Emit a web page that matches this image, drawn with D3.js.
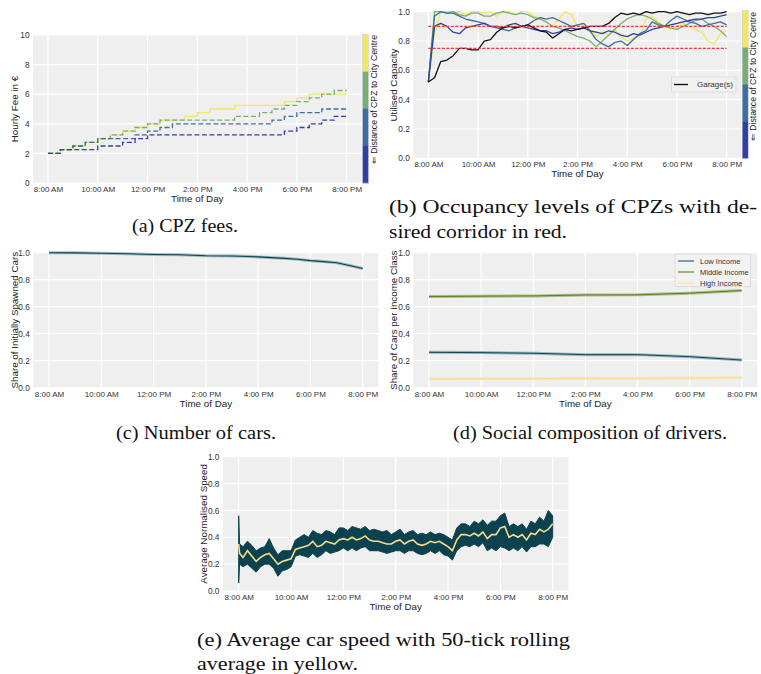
<!DOCTYPE html>
<html>
<head>
<meta charset="utf-8">
<script src="https://cdn.jsdelivr.net/npm/d3@7/dist/d3.min.js"></script>
<style>
  body { margin: 0; background: #fff; }
  svg text { font-family: "Liberation Sans", Arial, sans-serif; }
  .caption { font-family: "Liberation Serif", "DejaVu Serif", serif !important; font-size: 19px; fill: #111; }
</style>
</head>
<body>
<script>
// ---- data ----

// (a) hourly fee per CPZ, half-hour steps from 8:00 to 20:00
var feeTimes = [8, 8.5, 9, 9.5, 10, 10.5, 11, 11.5, 12, 12.5, 13, 13.5, 14, 14.5, 15, 15.5, 16, 16.5, 17, 17.5, 18, 18.5, 19, 19.5, 20];
var feeYellow = [2, 2.25, 2.5, 2.75, 3, 3.25, 3.5, 3.75, 4, 4.25, 4.25, 4.5, 4.75, 5, 5, 5.25, 5.25, 5.25, 5.25, 5.5, 5.75, 6, 6, 6, 6];
var feeGreen  = [2, 2.25, 2.5, 2.75, 3, 3.25, 3.5, 3.75, 4, 4.25, 4.25, 4.25, 4.25, 4.25, 4.25, 4.5, 4.5, 4.75, 5, 5.25, 5.5, 5.75, 6, 6.25, 6.25];
var feeSteel  = [2, 2.25, 2.5, 2.75, 3, 3, 3, 3.25, 3.5, 3.75, 4, 4, 4, 4, 4, 4, 4, 4, 4.25, 4.5, 4.75, 4.75, 5, 5, 5];
var feeBlue   = [2, 2.25, 2.25, 2.25, 2.5, 2.5, 2.75, 3, 3.25, 3.25, 3.25, 3.25, 3.25, 3.25, 3.25, 3.25, 3.25, 3.25, 3.25, 3.5, 3.75, 4, 4.25, 4.5, 4.5];

// (b) utilised capacity, quarter-hour samples
var occTimes = [8, 8.25, 8.5, 8.75, 9, 9.25, 9.5, 9.75, 10, 10.25, 10.5, 10.75, 11, 11.25, 11.5, 11.75,
  12, 12.25, 12.5, 12.75, 13, 13.25, 13.5, 13.75, 14, 14.25, 14.5, 14.75, 15, 15.25, 15.5, 15.75,
  16, 16.25, 16.5, 16.75, 17, 17.25, 17.5, 17.75, 18, 18.25, 18.5, 18.75, 19, 19.25, 19.5, 19.75, 20];
var occYellow = [.52, .85, 1, 1, 1, 1, .98, 1, 1, .99, 1, .97, 1, 1, .98, 1, 1, .97, .96, .93, .90, .95, 1, .98, .90,
  .92, .88, .83, .86, .84, .88, .83, .80, .82, .83, .95, .97, .93, .90, .88, .90, .92, .90, .88, .86, .80, .78, .85, .87];
var occGreen = [.52, 1, 1, .99, 1, .98, .97, .99, .99, .97, .97, .99, 1, .99, .98, .99, .98, .96, .95, .93, .90, .89, .87, .85, .83,
  .82, .80, .76, .80, .84, .88, .92, .95, .97, .98, .97, .95, .92, .90, .89, .88, .90, .92, .94, .95, .92, .90, .87, .83];
var occSteel = [.52, .97, 1, .99, .99, .97, .95, .94, .93, .92, .90, .89, .88, .87, .89, .90, .91, .94, .96, .95, .96, .94, .92, .90, .91,
  .92, .87, .81, .78, .76, .79, .80, .77, .81, .85, .87, .93, .91, .90, .94, .97, .95, .93, .92, .90, .91, .92, .93, .91];
var occBlue = [.52, .90, .92, .90, .86, .85, .89, .90, .91, .92, .90, .90, .89, .91, .92, .90, .89, .88, .87, .87, .85, .86, .88, .89, .88,
  .89, .87, .86, .85, .87, .86, .84, .83, .85, .84, .86, .88, .89, .90, .91, .92, .93, .94, .95, .95, .96, .96, .97, .98];
var occGarage = [.52, .55, .66, .67, .70, .75, .75, .74, .74, .80, .81, .86, .89, .90, .89, .90, .91, .89, .87, .86, .82, .85, .88, .87, .88,
  .89, .90, .90, .90, .92, .96, .99, .98, .99, .98, 1, .99, 1, 1, .99, 1, .99, .98, .99, .99, .98, .99, .99, 1];
var corridor = [0.75, 0.9];

// (c) share of initially spawned cars
var carTimes = [8, 9, 10, 11, 12, 13, 14, 15, 16, 17, 17.5, 18, 18.5, 19, 19.5, 20];
var carShare = [1.0, .999, .996, .992, .987, .985, .977, .975, .969, .958, .952, .941, .934, .925, .905, .883];

// (d) share of cars per income class
var incTimes = [8, 10, 12, 14, 16, 18, 20];
var incLow  = [.262, .260, .255, .245, .245, .230, .205];
var incMid  = [.675, .678, .680, .687, .688, .700, .720];
var incHigh = [.065, .066, .067, .069, .070, .071, .074];
var incNames = ["Low Income", "Middle Income", "High Income"];

// (e) average normalised speed: envelope of the raw series and the rolling mean (minutes after 8:00)
var speedMin = [0, 2, 10, 20, 30, 40, 50, 60, 70, 80, 90, 100, 110, 120, 130, 140, 150, 160, 170, 180, 190, 200,
  210, 220, 230, 240, 250, 260, 270, 280, 290, 300, 310, 320, 330, 340, 350, 360, 370, 380, 390, 400, 410, 420,
  430, 440, 450, 460, 470, 480, 490, 500, 510, 520, 530, 540, 550, 560, 570, 580, 590, 600, 610, 620, 630, 640,
  650, 660, 670, 680, 690, 700, 710, 720];
var speedHi = [.56, .35, .33, .37, .34, .30, .32, .33, .39, .32, .27, .30, .30, .30, .38, .40, .42, .40, .45, .43,
  .42, .45, .44, .42, .47, .47, .45, .48, .47, .46, .48, .45, .46, .45, .44, .45, .42, .44, .46, .42,
  .44, .45, .42, .43, .42, .44, .42, .43, .42, .40, .38, .47, .50, .50, .48, .52, .50, .53, .49, .52,
  .52, .56, .58, .48, .50, .48, .50, .46, .52, .50, .55, .52, .60, .56];
var speedLo = [.06, .20, .18, .20, .17, .14, .18, .20, .20, .17, .11, .15, .16, .18, .26, .27, .26, .25, .28, .25,
  .27, .30, .28, .29, .30, .32, .30, .32, .30, .32, .33, .30, .30, .30, .29, .28, .29, .30, .30, .28,
  .30, .30, .28, .27, .28, .30, .28, .30, .27, .26, .23, .30, .33, .34, .33, .35, .33, .36, .30, .32,
  .30, .33, .32, .30, .32, .30, .33, .29, .33, .33, .35, .35, .33, .40];
var speedAvg = [.35, .28, .25, .30, .26, .22, .25, .27, .28, .24, .20, .22, .23, .24, .31, .32, .33, .34, .37, .33,
  .34, .37, .36, .35, .38, .39, .38, .40, .38, .39, .41, .38, .37, .37, .36, .35, .35, .37, .38, .35,
  .37, .38, .35, .34, .35, .37, .36, .37, .35, .33, .30, .38, .42, .42, .41, .43, .41, .44, .39, .42,
  .42, .47, .48, .40, .42, .40, .42, .38, .43, .42, .46, .44, .46, .50];

var hourTicks = [8, 10, 12, 14, 16, 18, 20];
var unitTicks = [0, 0.2, 0.4, 0.6, 0.8, 1.0];
var cpzColors = ["#f0e85e", "#79ae72", "#3c6f9c", "#3140a0"]; // near -> far from centre (top -> bottom)

// ---- helpers ----

function fmtHour(h) {
  var hh = h % 12 === 0 ? 12 : h % 12;
  return hh + ":00 " + (h < 12 ? "AM" : "PM");
}

function zip(xs, ys) {
  return xs.map(function(d, i) { return [d, ys[i]]; });
}

var svg = d3.select("body").append("svg")
    .attr("width", 761)
    .attr("height", 674);

svg.append("rect").attr("width", 761).attr("height", 674).attr("fill", "#fff");

// builds the grey plot area, white grid, tick labels and axis titles
function panel(p) {
  var x = d3.scaleLinear().domain([7.4, 20.6]).range([p.x0, p.x1]);
  var y = d3.scaleLinear().domain([0, p.yMax]).range([p.y1, p.y0]);
  var g = svg.append("g");

  g.append("rect")
      .attr("x", p.x0).attr("y", p.y0)
      .attr("width", p.x1 - p.x0).attr("height", p.y1 - p.y0)
      .attr("fill", "#efefef");

  g.selectAll(".vgrid").data(hourTicks).enter().append("line")
      .attr("x1", function(d) { return x(d); }).attr("x2", function(d) { return x(d); })
      .attr("y1", p.y0).attr("y2", p.y1)
      .attr("stroke", "#fff").attr("stroke-width", 1.2);
  g.selectAll(".hgrid").data(p.yTicks).enter().append("line")
      .attr("x1", p.x0).attr("x2", p.x1)
      .attr("y1", function(d) { return y(d); }).attr("y2", function(d) { return y(d); })
      .attr("stroke", "#fff").attr("stroke-width", 1.2);

  g.append("g")
      .attr("transform", "translate(0," + p.y1 + ")")
      .call(d3.axisBottom(x).tickValues(hourTicks).tickFormat(fmtHour).tickSize(0).tickPadding(3.5))
      .call(function(a) { a.select(".domain").remove(); })
      .attr("font-family", null).attr("font-size", 8).style("color", "#333");

  g.append("g")
      .attr("transform", "translate(" + p.x0 + ",0)")
      .call(d3.axisLeft(y).tickValues(p.yTicks).tickFormat(p.fmt).tickSize(0).tickPadding(3.5))
      .call(function(a) { a.select(".domain").remove(); })
      .attr("font-family", null).attr("font-size", 8.3).style("color", "#333");

  g.append("text")
      .attr("x", (p.x0 + p.x1) / 2).attr("y", p.y1 + 19)
      .attr("text-anchor", "middle").attr("font-size", 9.8).attr("fill", "#222")
      .text("Time of Day");

  g.append("text")
      .attr("transform", "translate(" + (p.ylabX + 3.5) + "," + ((p.y0 + p.y1) / 2) + ") rotate(-90)")
      .attr("text-anchor", "middle").attr("font-size", 9.8).attr("fill", "#222")
      .text(p.ylabel);

  return {x: x, y: y, g: g};
}

function colorbar(g, x0, y0, y1, labX, labTop) {
  var band = d3.scaleBand().domain(d3.range(cpzColors.length)).range([y0, y1]);
  g.selectAll(".cb").data(cpzColors).enter().append("rect")
      .attr("x", x0).attr("width", 6)
      .attr("y", function(d, i) { return band(i); })
      .attr("height", band.bandwidth() + 0.3)
      .attr("fill", function(d) { return d; });
  g.append("rect").attr("x", x0).attr("y", y0).attr("width", 6).attr("height", y1 - y0)
      .attr("fill", "none").attr("stroke", "#c8c8e0").attr("stroke-width", 0.5);
  g.append("text")
      .attr("transform", "translate(" + labX + "," + labTop + ") rotate(-90)")
      .attr("text-anchor", "end").attr("font-size", 8.7).attr("fill", "#222")
      .text("\u21D0 Distance of CPZ to City Centre");
}

var fmt1 = d3.format(".1f");

// ---- (a) CPZ fees ----
var pa = panel({x0: 33, x1: 361.6, y0: 35, y1: 183, yMax: 10, yTicks: [0, 2, 4, 6, 8, 10],
  fmt: d3.format("d"), ylabel: "Hourly Fee in \u20AC", ylabX: 14});
var stepLine = d3.line()
    .x(function(d) { return pa.x(d[0]); })
    .y(function(d) { return pa.y(d[1]); })
    .curve(d3.curveStepAfter);
[feeYellow, feeGreen, feeSteel, feeBlue].forEach(function(s, i) {
  pa.g.append("path")
      .attr("d", stepLine(zip(feeTimes, s)))
      .attr("fill", "none")
      .attr("stroke", cpzColors[i])
      .attr("stroke-width", 1.3)
      .attr("stroke-dasharray", i === 0 ? null : "5,2.5");
});
colorbar(pa.g, 362.5, 34.5, 183, 376.5, 35);

// ---- (b) occupancy ----
var pb = panel({x0: 413.4, x1: 741.6, y0: 11.7, y1: 158.3, yMax: 1, yTicks: unitTicks,
  fmt: fmt1, ylabel: "Utilised Capacity", ylabX: 393});
var occLine = d3.line()
    .x(function(d) { return pb.x(d[0]); })
    .y(function(d) { return pb.y(d[1]); });
[occYellow, occGreen, occSteel, occBlue].forEach(function(s, i) {
  pb.g.append("path")
      .attr("d", occLine(zip(occTimes, s)))
      .attr("fill", "none")
      .attr("stroke", cpzColors[i])
      .attr("stroke-width", 1.3)
      .attr("stroke-linejoin", "bevel");
});
pb.g.append("path")
    .attr("d", occLine(zip(occTimes, occGarage)))
    .attr("fill", "none").attr("stroke", "#111").attr("stroke-width", 1.3).attr("stroke-linejoin", "bevel");
pb.g.selectAll(".corr").data(corridor).enter().append("line")
    .attr("x1", pb.x(8)).attr("x2", pb.x(20))
    .attr("y1", function(d) { return pb.y(d); }).attr("y2", function(d) { return pb.y(d); })
    .attr("stroke", "#f03a36").attr("stroke-width", 1.1).attr("stroke-dasharray", "3,1.5");
colorbar(pb.g, 742.2, 10.5, 158.3, 755.7, 12);

// legend
var lgB = pb.g.append("g");
lgB.append("rect").attr("x", 671.7).attr("y", 77).attr("width", 64.3).attr("height", 15)
    .attr("fill", "#f2f2f2").attr("stroke", "#d0d0d0").attr("stroke-width", 0.6);
lgB.append("line").attr("x1", 674).attr("x2", 688).attr("y1", 84.5).attr("y2", 84.5)
    .attr("stroke", "#111").attr("stroke-width", 1.4);
lgB.append("text").attr("x", 697).attr("y", 84.5).attr("dy", "0.35em")
    .attr("font-size", 8).attr("fill", "#333").text("Garage(s)");

// ---- (c) number of cars ----
var pc = panel({x0: 33.3, x1: 378.4, y0: 252.7, y1: 387.7, yMax: 1, yTicks: unitTicks,
  fmt: fmt1, ylabel: "Share of Initially Spawned Cars", ylabX: 14});
var carLine = d3.line()
    .x(function(d) { return pc.x(d[0]); })
    .y(function(d) { return pc.y(d[1]); });
pc.g.append("path").attr("d", carLine(zip(carTimes, carShare)))
    .attr("fill", "none").attr("stroke", "#7fa2ab").attr("stroke-width", 3).attr("opacity", 0.7);
pc.g.append("path").attr("d", carLine(zip(carTimes, carShare)))
    .attr("fill", "none").attr("stroke", "#0d4452").attr("stroke-width", 1.1);

// ---- (d) social composition ----
var pd = panel({x0: 413.4, x1: 757.3, y0: 252.7, y1: 387.7, yMax: 1, yTicks: unitTicks,
  fmt: fmt1, ylabel: "Share of Cars per Income Class", ylabX: 393});
var incLine = d3.line()
    .x(function(d) { return pd.x(d[0]); })
    .y(function(d) { return pd.y(d[1]); });
var incHalo = ["#7fa2ab", "#9bb070", "#f8e8b0"];
var incDark = ["#12495a", "#5f7f1c", "#f5dc90"];
var incLegend = ["#5d8893", "#8da258", "#fbe7ad"];
[incLow, incMid, incHigh].forEach(function(s, i) {
  pd.g.append("path").attr("d", incLine(zip(incTimes, s)))
      .attr("fill", "none").attr("stroke", incHalo[i]).attr("stroke-width", 3).attr("opacity", 0.8);
  pd.g.append("path").attr("d", incLine(zip(incTimes, s)))
      .attr("fill", "none").attr("stroke", incDark[i]).attr("stroke-width", 1);
});
var lgD = pd.g.append("g");
lgD.append("rect").attr("x", 675).attr("y", 254).attr("width", 75.7).attr("height", 32.7)
    .attr("fill", "#f2f2f2").attr("stroke", "#d0d0d0").attr("stroke-width", 0.6);
lgD.selectAll(".li").data(incNames).enter().append("line")
    .attr("x1", 678).attr("x2", 694)
    .attr("y1", function(d, i) { return 261 + i * 11; }).attr("y2", function(d, i) { return 261 + i * 11; })
    .attr("stroke", function(d, i) { return incLegend[i]; }).attr("stroke-width", 1.6);
lgD.selectAll(".lt").data(incNames).enter().append("text")
    .attr("x", 700).attr("y", function(d, i) { return 261 + i * 11; }).attr("dy", "0.35em")
    .attr("font-size", 7.5).attr("fill", "#333")
    .text(function(d) { return d; });

// ---- (e) average speed ----
var pe = panel({x0: 223, x1: 568.4, y0: 456.7, y1: 591, yMax: 1, yTicks: unitTicks,
  fmt: fmt1, ylabel: "Average Normalised Speed", ylabX: 203});
var speedT = speedMin.map(function(m) { return 8 + m / 60; });
var band = d3.area()
    .x(function(d) { return pe.x(d.t); })
    .y0(function(d) { return pe.y(d.lo); })
    .y1(function(d) { return pe.y(d.hi); });
var speedData = speedT.map(function(t, i) { return {t: t, hi: speedHi[i], lo: speedLo[i], avg: speedAvg[i]}; });
pe.g.append("path").attr("d", band(speedData))
    .attr("fill", "#0c4250").attr("stroke", "#0c4250").attr("stroke-width", 1).attr("stroke-linejoin", "bevel");
pe.g.append("path")
    .attr("d", d3.line().x(function(d) { return pe.x(d.t); }).y(function(d) { return pe.y(d.avg); })(speedData))
    .attr("fill", "none").attr("stroke", "#f6dc8c").attr("stroke-width", 1.6);

// ---- captions ----
var captions = [
  {t: "(a) CPZ fees.", x: 185, y: 232, a: "middle", w: 106},
  {t: "(b) Occupancy levels of CPZs with de-", x: 389, y: 213, a: "start", w: 368},
  {t: "sired corridor in red.", x: 389, y: 237.5, a: "start", w: 178},
  {t: "(c) Number of cars.", x: 196, y: 439, a: "middle", w: 160},
  {t: "(d) Social composition of drivers.", x: 590, y: 439, a: "middle", w: 274},
  {t: "(e) Average car speed with 50-tick rolling", x: 197, y: 646, a: "start", w: 373},
  {t: "average in yellow.", x: 197, y: 670, a: "start", w: 161}
];
svg.selectAll(".caption").data(captions).enter().append("text")
    .attr("class", "caption")
    .attr("x", function(d) { return d.x; })
    .attr("y", function(d) { return d.y; })
    .attr("text-anchor", function(d) { return d.a; })
    .attr("textLength", function(d) { return d.w; })
    .attr("lengthAdjust", "spacingAndGlyphs")
    .text(function(d) { return d.t; });
</script>
</body>
</html>
